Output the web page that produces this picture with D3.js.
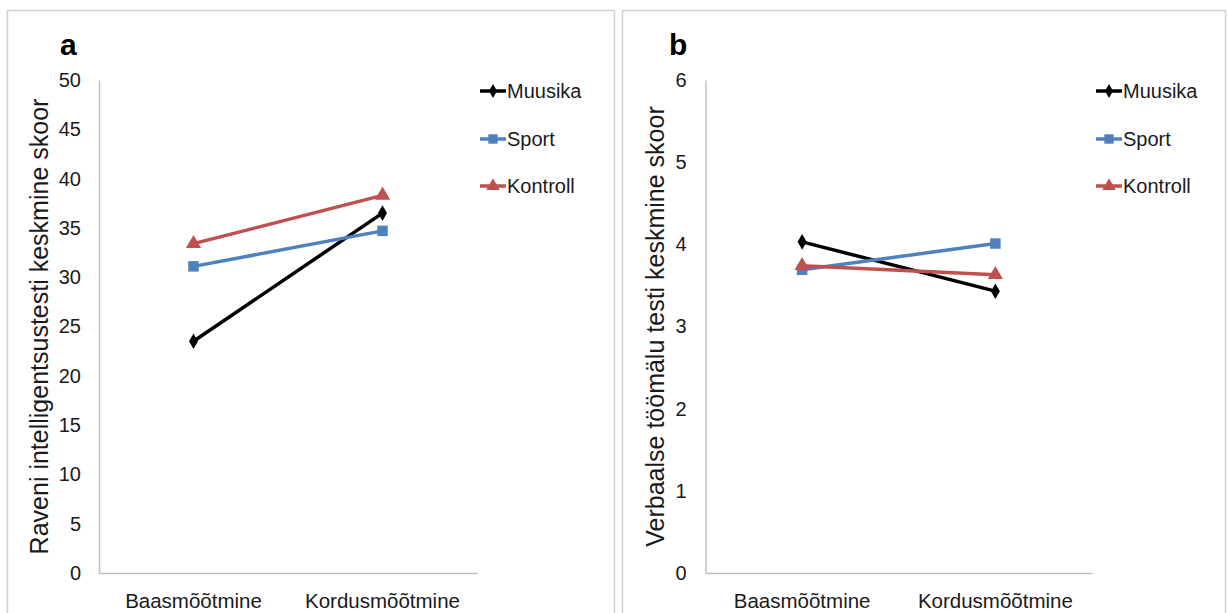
<!DOCTYPE html>
<html>
<head>
<meta charset="utf-8">
<script src="https://cdn.jsdelivr.net/npm/d3@7"></script>
<style>
  html, body { margin: 0; padding: 0; background: #fff; }
  svg { display: block; font-family: "Liberation Sans", Arial, sans-serif; }
</style>
</head>
<body>
<svg id="chart" width="1228" height="613"></svg>
<script>
// ---- data ----
const categories = ["Baasmõõtmine", "Kordusmõõtmine"];
const seriesNames = ["Muusika", "Sport", "Kontroll"];
const seriesColors = ["#000000", "#4f81bd", "#c0504d"];
const seriesShapes = ["diamond", "square", "triangle"];

const ravenMuusika = [23.5, 36.5];
const ravenSport = [31.1, 34.7];
const ravenKontroll = [33.4, 38.3];
const ravenTicks = [0, 5, 10, 15, 20, 25, 30, 35, 40, 45, 50];

const verbMuusika = [4.03, 3.43];
const verbSport = [3.69, 4.01];
const verbKontroll = [3.74, 3.63];
const verbTicks = [0, 1, 2, 3, 4, 5, 6];

const panelLetters = ["a", "b"];
const axisTitles = ["Raveni intelligentsustesti keskmine skoor", "Verbaalse töömälu testi keskmine skoor"];

// ---- drawing ----
const svg = d3.select("#chart");
const symbolTypes = { diamond: d3.symbolDiamond, square: d3.symbolSquare, triangle: d3.symbolTriangle };
const symbolSizes = { diamond: 70, square: 110, triangle: 100 };

function drawPanel(opts) {
  const g = svg.append("g");
  // frame
  g.append("rect")
    .attr("x", opts.frame[0]).attr("y", opts.frame[1])
    .attr("width", opts.frame[2]).attr("height", opts.frame[3])
    .attr("fill", "none").attr("stroke", "#d0d0d0").attr("stroke-width", 1.5);

  const y = d3.scaleLinear().domain([0, d3.max(opts.ticks)]).range([opts.bottom, opts.top]);
  const x = d3.scaleBand().domain(categories).range([opts.left, opts.right]);

  // y axis
  const ya = g.append("g").attr("transform", `translate(${opts.left},0)`)
    .call(d3.axisLeft(y).tickValues(opts.ticks).tickSize(0).tickPadding(opts.tickPad).tickFormat(d3.format("d")));
  ya.select(".domain").attr("stroke", "#bfbfbf").attr("stroke-width", 1.5);
  ya.selectAll("text").attr("font-size", 20).attr("fill", "#1a1a1a")
    .attr("font-family", "'Liberation Sans', Arial, sans-serif");

  // x axis
  const xa = g.append("g").attr("transform", `translate(0,${opts.bottom})`)
    .call(d3.axisBottom(x).tickSize(0).tickPadding(20));
  xa.select(".domain").attr("stroke", "#bfbfbf").attr("stroke-width", 1.5);
  xa.selectAll("text").attr("font-size", 20.5).attr("fill", "#1a1a1a")
    .attr("font-family", "'Liberation Sans', Arial, sans-serif");

  // axis title
  g.append("text")
    .attr("transform", `translate(${opts.titleX},${(opts.top + opts.bottom) / 2}) rotate(-90)`)
    .attr("text-anchor", "middle")
    .attr("font-size", 25).attr("fill", "#1a1a1a")
    .text(opts.title);

  // panel letter
  g.append("text").attr("x", opts.letterX).attr("y", 55)
    .attr("font-size", 30).attr("font-weight", "bold").attr("fill", "#000")
    .text(opts.letter);

  // series
  const line = d3.line().x(d => x(d.cat) + x.bandwidth() / 2).y(d => y(d.v));
  opts.series.forEach((vals, i) => {
    const pts = vals.map((v, j) => ({ cat: categories[j], v }));
    g.append("path").datum(pts).attr("d", line)
      .attr("fill", "none").attr("stroke", seriesColors[i]).attr("stroke-width", 3.5);
    g.selectAll(null).data(pts).enter().append("path")
      .attr("transform", d => `translate(${x(d.cat) + x.bandwidth() / 2},${y(d.v)})`)
      .attr("d", d3.symbol().type(symbolTypes[seriesShapes[i]]).size(symbolSizes[seriesShapes[i]]))
      .attr("fill", seriesColors[i]);
  });

  // legend
  const legendY = [91, 139, 186];
  seriesNames.forEach((name, i) => {
    const lg = g.append("g").attr("transform", `translate(${opts.legendX},${legendY[i]})`);
    lg.append("line").attr("x1", 0).attr("x2", 26).attr("y1", 0).attr("y2", 0)
      .attr("stroke", seriesColors[i]).attr("stroke-width", 3.5);
    lg.append("path").attr("transform", "translate(13,0)")
      .attr("d", d3.symbol().type(symbolTypes[seriesShapes[i]]).size(symbolSizes[seriesShapes[i]] * 0.8))
      .attr("fill", seriesColors[i]);
    lg.append("text").attr("x", 27).attr("y", 0).attr("dy", "0.35em")
      .attr("font-size", 20).attr("fill", "#1a1a1a").text(name);
  });
}

drawPanel({
  frame: [7.5, 10.5, 607, 640],
  left: 99, right: 477, top: 80, bottom: 573,
  ticks: ravenTicks, tickPad: 18,
  title: axisTitles[0], titleX: 48, letter: panelLetters[0], letterX: 60,
  legendX: 480,
  series: [ravenMuusika, ravenSport, ravenKontroll]
});

drawPanel({
  frame: [622.5, 10.5, 603, 640],
  left: 705.5, right: 1092, top: 80, bottom: 573,
  ticks: verbTicks, tickPad: 19,
  title: axisTitles[1], titleX: 664, letter: panelLetters[1], letterX: 669,
  legendX: 1096,
  series: [verbMuusika, verbSport, verbKontroll]
});
</script>
</body>
</html>
